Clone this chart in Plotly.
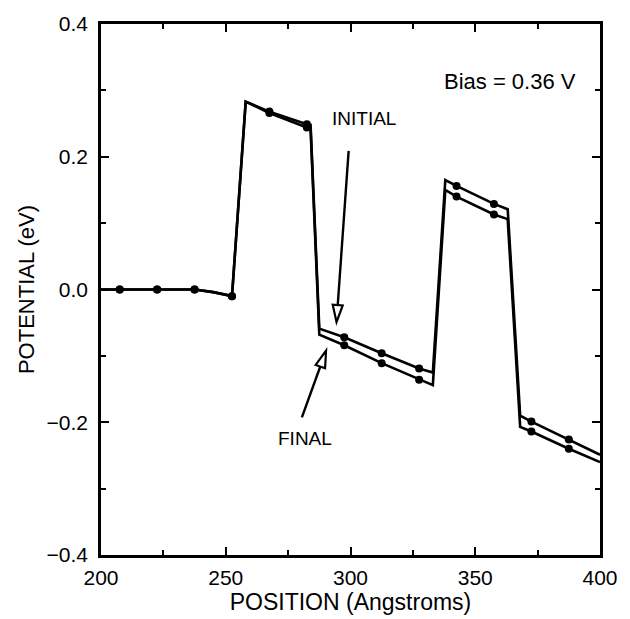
import math
import plotly.graph_objects as go

# ---- data ----
position = [200, 207.5, 222.5, 237.5, 245, 252.5, 258, 267.5, 282.5, 284, 287.5,
            297.5, 312.5, 327.5, 333, 338, 342.5, 357.5, 363, 368, 372.5, 387.5, 400]
initial = [0, 0, 0, 0, -0.004, -0.010, 0.283, 0.268, 0.249, 0.248, -0.059,
           -0.072, -0.096, -0.119, -0.125, 0.165, 0.156, 0.129, 0.121, -0.190, -0.199, -0.226, -0.249]
final = [0, 0, 0, 0, -0.004, -0.010, 0.283, 0.266, 0.244, 0.242, -0.068,
         -0.084, -0.111, -0.136, -0.144, 0.150, 0.140, 0.113, 0.106, -0.207, -0.214, -0.240, -0.260]
marker_positions = [207.5, 222.5, 237.5, 252.5, 267.5, 282.5, 297.5, 312.5, 327.5,
                    342.5, 357.5, 372.5, 387.5]

x_ticks = [200, 250, 300, 350, 400]
y_ticks = [-0.4, -0.2, 0.0, 0.2, 0.4]
y_tick_labels = ["\u22120.4", "\u22120.2", "0.0", "0.2", "0.4"]

bias_label = "Bias = 0.36 V"
initial_label = "INITIAL"
final_label = "FINAL"
initial_arrow = {"tail": (299.3, 0.211), "tip": (294.4, -0.049)}
final_arrow = {"tail": (280.3, -0.195), "tip": (290.2, -0.092)}

# ---- layout geometry ----
W, H = 630, 619
M = dict(l=101, r=29, t=15, b=62)
XR = [200, 400]
YR = [-0.4, 0.4]
plot_w = W - M["l"] - M["r"]
plot_h = H - M["t"] - M["b"]
PX_X = plot_w / (XR[1] - XR[0])
PX_Y = plot_h / (YR[1] - YR[0])

FONT = "Liberation Sans, Arial, sans-serif"

fig = go.Figure()

for name, vals in (("INITIAL", initial), ("FINAL", final)):
    fig.add_trace(go.Scatter(x=position, y=vals, mode="lines", name=name,
                             line=dict(color="black", width=2.6), showlegend=False))
    mx = [x for x in marker_positions]
    my = [vals[position.index(x)] for x in marker_positions]
    fig.add_trace(go.Scatter(x=mx, y=my, mode="markers", showlegend=False,
                             marker=dict(color="black", size=8)))

shapes = []
annotations = []


def add_arrow(spec, head_len=17, head_w=10):
    tx, ty = spec["tail"]
    hx, hy = spec["tip"]
    dx = (hx - tx) * PX_X
    dy = (hy - ty) * PX_Y
    L = math.hypot(dx, dy)
    ux, uy = dx / L, dy / L
    bx = hx - head_len * ux / PX_X
    by = hy - head_len * uy / PX_Y
    annotations.append(dict(x=bx, y=by, ax=tx, ay=ty, xref="x", yref="y",
                            axref="x", ayref="y", text="", showarrow=True,
                            arrowhead=0, arrowwidth=2.4, arrowcolor="black"))
    c1 = (-head_len * ux - head_w / 2 * uy, -head_len * uy + head_w / 2 * ux)
    c2 = (-head_len * ux + head_w / 2 * uy, -head_len * uy - head_w / 2 * ux)
    path = "M 0 0 L {:.2f} {:.2f} L {:.2f} {:.2f} Z".format(c1[0], c1[1], c2[0], c2[1])
    shapes.append(dict(type="path", xref="x", yref="y", xsizemode="pixel",
                       ysizemode="pixel", xanchor=hx, yanchor=hy, path=path,
                       line=dict(color="black", width=2.2), fillcolor="white"))


add_arrow(initial_arrow)
add_arrow(final_arrow)

annotations += [
    dict(x=364, y=0.313, xref="x", yref="y", text=bias_label, showarrow=False,
         font=dict(family=FONT, size=22, color="black")),
    dict(x=305.6, y=0.258, xref="x", yref="y", text=initial_label, showarrow=False,
         font=dict(family=FONT, size=19, color="black")),
    dict(x=281.6, y=-0.225, xref="x", yref="y", text=final_label, showarrow=False,
         font=dict(family=FONT, size=19, color="black")),
]

axis_common = dict(showgrid=False, zeroline=False, showline=True, linecolor="black",
                   linewidth=2.5, mirror="ticks", ticks="inside", ticklen=8,
                   tickwidth=2, tickcolor="black",
                   tickfont=dict(family=FONT, size=21, color="black"))

fig.update_layout(
    width=W, height=H, margin=M,
    paper_bgcolor="white", plot_bgcolor="white",
    xaxis=dict(range=XR, tickvals=x_ticks, ticktext=[str(v) for v in x_ticks],
               minor=dict(dtick=25, ticks="inside", ticklen=5, tickwidth=1.5, tickcolor="black"),
               title=dict(text="POSITION (Angstroms)", standoff=2,
                          font=dict(family=FONT, size=23, color="black")),
               ticklabelstandoff=2, **axis_common),
    yaxis=dict(range=YR, tickvals=y_ticks, ticktext=y_tick_labels,
               minor=dict(dtick=0.1, tick0=0, ticks="inside", ticklen=5, tickwidth=1.5, tickcolor="black"),
               title=dict(text="POTENTIAL (eV)", standoff=6,
                          font=dict(family=FONT, size=22, color="black")),
               ticklabelstandoff=6, **axis_common),
    shapes=shapes,
    annotations=annotations,
)

fig.write_html("out.html")
